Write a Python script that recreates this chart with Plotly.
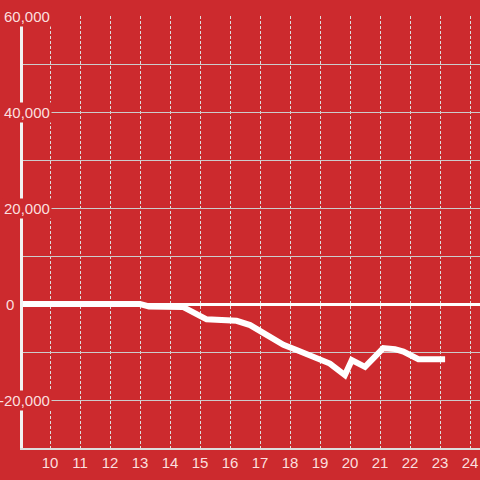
import plotly.graph_objects as go

# data
hours = [9, 10, 11, 12, 13.0, 13.3, 14.3, 14.43, 15.22, 16.22, 16.67, 17.11, 17.78,
         18.22, 18.89, 19.33, 19.83, 20.06, 20.5, 21.11, 21.5, 21.78, 22.28, 23.17]
values = [0, 0, 0, 0, 0, -500, -500, -600, -3200, -3500, -4400, -6100, -8500,
          -9600, -11300, -12400, -14800, -11700, -13100, -9200, -9400, -9900, -11500, -11500]
x_ticks = list(range(10, 25))
y_label_vals = [60000, 40000, 20000, 0, -20000]
y_label_text = ["60,000", "40,000", "20,000", "0", "-20,000"]

BG = "rgb(204,42,46)"
TXT = "rgba(255,235,235,0.95)"

fig = go.Figure()
fig.add_trace(go.Scatter(x=hours, y=values, mode="lines",
                         line=dict(color="white", width=6), hoverinfo="skip"))

x_min, x_max = 9, 9 + 460 / 30
fig.update_layout(
    width=480, height=480,
    margin=dict(l=20, r=0, t=16, b=32, autoexpand=False),
    paper_bgcolor=BG, plot_bgcolor=BG,
    showlegend=False,
    font=dict(family="Liberation Sans, Arial, sans-serif", size=15, color=TXT),
    xaxis=dict(range=[x_min, x_max], tickvals=x_ticks, showgrid=True, automargin=False,
               gridcolor="#dddddd", gridwidth=1, griddash="3px,2px",
               zeroline=False, showline=True, linecolor="#dddddd", linewidth=2,
               ticks="", tickfont=dict(size=15, color=TXT)),
    yaxis=dict(range=[-30000, 60000], dtick=10000, tick0=0, showgrid=True, automargin=False,
               gridcolor="#cccccc", gridwidth=1, showticklabels=False,
               zeroline=True, zerolinecolor="white", zerolinewidth=3,
               showline=False, ticks=""),
)

# y axis line
fig.add_shape(type="line", xref="paper", yref="y", x0=1.5 / 460, x1=1.5 / 460,
              y0=-30000, y1=60000, line=dict(color="#f2f2f2", width=3), layer="above")

for v, t in zip(y_label_vals, y_label_text):
    px = 52 if v != 0 else 16
    fig.add_annotation(x=(px - 20) / 460, y=v, xref="paper", yref="y", text=t, showarrow=False,
                       xanchor="right", yanchor="middle", bgcolor=BG if v != 0 else None,
                       borderpad=1, font=dict(size=15, color=TXT))

fig.write_html("out.html", config={"displayModeBar": False},
               post_script="document.body.style.margin='0';document.body.style.overflow='hidden';")
